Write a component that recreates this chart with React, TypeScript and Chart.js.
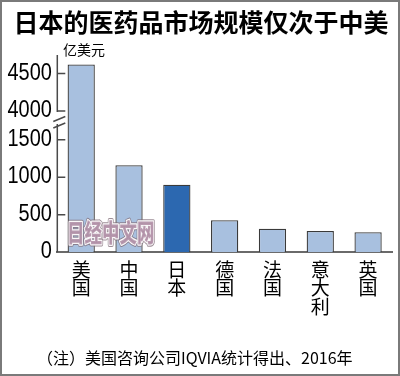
import React, { useEffect, useRef } from "react";
import { Chart, registerables } from "chart.js";

Chart.register(...registerables);

const TITLE = "日本的医药品市场规模仅次于中美";
const UNIT = "亿美元";
const FOOTNOTE = "（注）美国咨询公司IQVIA统计得出、2016年";
const WATERMARK = "日经中文网";

const categories = ["美国", "中国", "日本", "德国", "法国", "意大利", "英国"];
const values = [4620, 1160, 900, 427, 315, 284, 267];
const highlightCategory = "日本";
const yTickValues = [0, 500, 1000, 1500, 4000, 4500];

// broken axis: values from BREAK_UPPER upward are shifted down by BREAK_SHIFT
const BREAK_LOWER = 1500;
const BREAK_UPPER = 4000;
const BREAK_SHIFT = 2116;
const Y_MAX_REAL = 4747;

const toDisplay = (v: number) => (v >= BREAK_UPPER ? v - BREAK_SHIFT : v);
const fromDisplay = (d: number) => (d > BREAK_LOWER + 100 ? d + BREAK_SHIFT : d);

const CJK = '"Noto Sans CJK SC", "Noto Sans", sans-serif';
const DIGITS = '"Liberation Sans", Arial, sans-serif';

const decorPlugin = {
  id: "decor",
  afterDraw(chart: any) {
    const { ctx, chartArea, scales } = chart;
    const W = chart.width;
    const H = chart.height;
    const y = scales.y;
    ctx.save();

    // frame
    ctx.strokeStyle = "#7a7a7a";
    ctx.lineWidth = 2;
    ctx.strokeRect(1, 1, W - 2, H - 2);

    // title
    ctx.fillStyle = "#000";
    ctx.font = `bold 25px ${CJK}`;
    ctx.textAlign = "center";
    ctx.textBaseline = "middle";
    ctx.fillText(TITLE, 201, 22);

    // unit
    ctx.font = `14px ${CJK}`;
    ctx.textAlign = "left";
    ctx.fillText(UNIT, 63, 50);

    // footnote
    ctx.font = `16px ${CJK}`;
    ctx.textAlign = "left";
    ctx.fillText(FOOTNOTE, 37, 358);

    // y tick labels (condensed digits)
    const left = chartArea.left;
    y.ticks.forEach((t: any) => {
      const py = y.getPixelForValue(t.value);
      ctx.save();
      ctx.translate(left - 5.5, py - 0.5);
      ctx.scale(0.83, 1);
      ctx.font = `24px ${DIGITS}`;
      ctx.textAlign = "right";
      ctx.textBaseline = "middle";
      ctx.fillStyle = "#000";
      ctx.fillText(String(fromDisplay(t.value)), 0, 0);
      ctx.restore();
    });

    // y axis with break
    const pBreak = y.getPixelForValue(toDisplay(BREAK_UPPER));
    ctx.strokeStyle = "#4a4a4a";
    ctx.lineWidth = 1.5;
    ctx.beginPath();
    ctx.moveTo(left, chartArea.top);
    ctx.lineTo(left, pBreak + 1);
    ctx.moveTo(left, pBreak + 13);
    ctx.lineTo(left, chartArea.bottom);
    ctx.stroke();
    // break slashes
    ctx.beginPath();
    ctx.moveTo(left - 4, pBreak + 10.5);
    ctx.lineTo(left + 8, pBreak + 5.5);
    ctx.moveTo(left - 4, pBreak + 17);
    ctx.lineTo(left + 8, pBreak + 12);
    ctx.stroke();
    // inward ticks
    ctx.beginPath();
    yTickValues.forEach((v) => {
      if (v === 0) return;
      const py = y.getPixelForValue(toDisplay(v));
      ctx.moveTo(left, py);
      ctx.lineTo(left + 8, py);
    });
    ctx.stroke();

    // watermark
    ctx.save();
    ctx.translate(67, 232);
    ctx.scale(0.7, 1);
    ctx.font = `900 25px ${CJK}`;
    ctx.textAlign = "left";
    ctx.textBaseline = "middle";
    ctx.lineJoin = "round";
    ctx.strokeStyle = "rgba(125,105,118,0.75)";
    ctx.lineWidth = 4.5;
    ctx.strokeText(WATERMARK, 0, 0);
    ctx.strokeStyle = "rgba(255,255,255,0.95)";
    ctx.lineWidth = 2.5;
    ctx.strokeText(WATERMARK, 0, 0);
    ctx.fillStyle = "rgba(178,145,168,0.9)";
    ctx.fillText(WATERMARK, 0, 0);
    ctx.restore();

    ctx.restore();
  },
};

export default function App() {
  const ref = useRef<HTMLCanvasElement | null>(null);

  useEffect(() => {
    document.body.style.margin = "0";
    if (!ref.current) return;
    const chart = new Chart(ref.current, {
      type: "bar",
      data: {
        labels: categories.map((c) => c.split("")),
        datasets: [
          {
            data: values.map(toDisplay),
            backgroundColor: categories.map((c) => (c === highlightCategory ? "#2c68b0" : "#a8c0df")),
            borderColor: "#3a3a3a",
            borderWidth: 1.3,
            borderSkipped: "bottom",
            barPercentage: 0.57,
            categoryPercentage: 1,
          },
        ],
      },
      options: {
        responsive: false,
        animation: false,
        devicePixelRatio: 1,
        layout: { padding: { top: 55, left: 0, right: 8, bottom: 0 } },
        plugins: {
          legend: { display: false },
          title: { display: false },
          tooltip: { enabled: false },
        },
        scales: {
          x: {
            grid: { display: false, drawTicks: false },
            border: { display: true, color: "#6a6a6a", width: 2 },
            ticks: {
              color: "#000",
              padding: 8,
              maxRotation: 0,
              autoSkip: false,
              font: { family: CJK, size: 19, lineHeight: 0.98 },
            },
            afterFit: (scale: any) => {
              scale.height = 376 - 252.3;
            },
          },
          y: {
            min: 0,
            max: toDisplay(Y_MAX_REAL),
            grid: { display: false, drawTicks: false },
            border: { display: false },
            afterBuildTicks: (scale: any) => {
              scale.ticks = yTickValues.map((v) => ({ value: toDisplay(v) }));
            },
            ticks: {
              display: false,
              callback: (value: any) => String(fromDisplay(Number(value))),
            },
            afterFit: (scale: any) => {
              scale.width = 57.3;
            },
          },
        },
      },
      plugins: [decorPlugin],
    });
    return () => chart.destroy();
  }, []);

  return (
    <div style={{ width: 400, height: 376 }}>
      <canvas ref={ref} width={400} height={376} style={{ display: "block" }} />
    </div>
  );
}
